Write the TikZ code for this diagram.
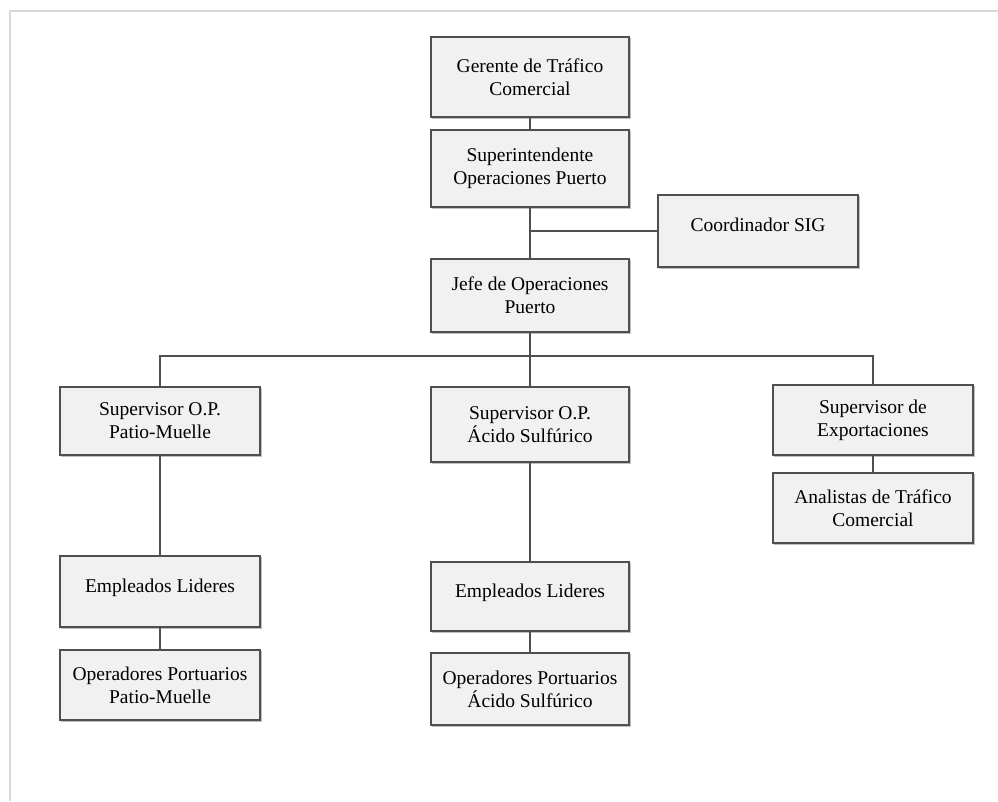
\documentclass[tikz,border=0pt]{standalone}
\usepackage{fontspec}
\setmainfont{Liberation Serif}
\begin{document}
\begin{tikzpicture}[x=1pt, y=-1pt,
  orgbox/.style={draw=boxline, line width=1.6pt, fill=boxfill, inner sep=0pt,
    minimum width=198pt, align=center, font=\fontsize{19.5}{23}\selectfont,
    preaction={draw=black!25, line width=1.6pt, transform canvas={xshift=1.5pt, yshift=-1.5pt}}},
  wide/.style={minimum width=200pt},
  oneline/.style={text depth=12pt},
  link/.style={draw=boxline, line width=1.6pt}]
\definecolor{boxline}{HTML}{4F4F4F}
\definecolor{boxfill}{HTML}{F1F1F1}
\useasboundingbox (0,0) rectangle (998,801);
% frame along the top and left edges
\draw[line width=2pt, draw=black!15] (9.5,801) -- (9.5,10.5) -- (998,10.5);

% boxes
\node[orgbox, minimum height=80pt] (ger) at (530,77) {Gerente de Tráfico\\Comercial};
\node[orgbox, minimum height=77pt] (sup) at (530,168.5) {Superintendente\\Operaciones Puerto};
\node[orgbox, wide, minimum height=72pt, oneline] (coord) at (758,231) {Coordinador SIG};
\node[orgbox, minimum height=73pt] (jefe) at (530,295.5) {Jefe de Operaciones\\Puerto};
\node[orgbox, wide, minimum height=68pt] (spm) at (160,421) {Supervisor O.P.\\Patio-Muelle};
\node[orgbox, minimum height=75pt] (sas) at (530,424.5) {Supervisor O.P.\\Ácido Sulfúrico};
\node[orgbox, wide, minimum height=70pt] (sex) at (873,420) {Supervisor de\\Exportaciones};
\node[orgbox, wide, minimum height=70pt] (ana) at (873,508) {Analistas de Tráfico\\Comercial};
\node[orgbox, wide, minimum height=71pt, oneline] (eml) at (160,591.5) {Empleados Lideres};
\node[orgbox, wide, minimum height=70pt] (opl) at (160,685) {Operadores Portuarios\\Patio-Muelle};
\node[orgbox, minimum height=69pt, oneline] (ems) at (530,596.5) {Empleados Lideres};
\node[orgbox, minimum height=72pt] (ops) at (530,689) {Operadores Portuarios\\Ácido Sulfúrico};

% connectors
\coordinate (bus) at (530,356);
\path[link] (ger) -- (sup);
\path[link] (sup) -- (jefe);
\path[link] (sup.south |- coord.west) -- (coord.west);
\path[link] (jefe) -- (bus);
\path[link] (spm.north) -- (spm.north |- bus) -- (sex.north |- bus) -- (sex.north);
\path[link] (bus) -- (sas);
\path[link] (sex) -- (ana);
\path[link] (spm) -- (eml);
\path[link] (eml) -- (opl);
\path[link] (sas) -- (ems);
\path[link] (ems) -- (ops);
\end{tikzpicture}
\end{document}
